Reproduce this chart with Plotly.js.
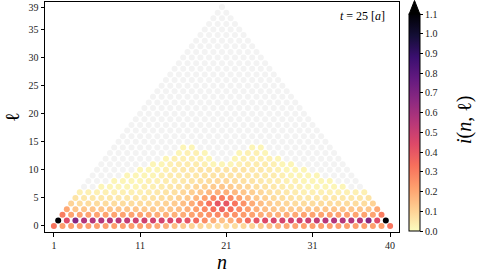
<!DOCTYPE html>
<html><head><meta charset="utf-8">
<script src="https://cdn.plot.ly/plotly-3.0.1.min.js"></script>
<style>html,body{margin:0;padding:0;background:#fff}#plot{width:479px;height:276px}</style>
</head><body><div id="plot"></div>
<script>
// i(n, l) values x100, row l has 40-l sites at n = 1 + l/2 + k
const i_l0  = [32,22,22,22,22,22,22,22,22,22,22,21,20,18,15,12,10,9,8,8, 8,8,9,10,12,15,18,20,21,22,22,22,22,22,22,22,22,22,22,32];
const i_l1  = [110,44,68,56,56,56,56,55,52,49,48,48,47,46,44,41,35,26,18,14, 18,26,35,41,44,46,47,48,48,49,52,55,56,56,56,56,68,44,110];
const i_l2  = [30,21,21,21,21,21,21,21,21,21,20,19,18,18,19,21,23,25,27, 27,25,23,21,19,18,18,19,20,21,21,21,21,21,21,21,21,21,30];
const i_l3  = [20,13,13,13,13,13,13,13,13,12,12,12,13,15,18,22,27,33,37, 33,27,22,18,15,13,12,12,12,13,13,13,13,13,13,13,13,20];
const i_l4  = [10,8,8,8,8,8,8,8,8,8,9,10,12,15,19,25,32,40, 40,32,25,19,15,12,10,9,8,8,8,8,8,8,8,8,8,10];
const i_l5  = [6,5,5,5,5,5,5,5,5,6,7,8,10,12,16,21,27,30, 27,21,16,12,10,8,7,6,5,5,5,5,5,5,5,5,6];
const i_l6  = [3,3,3,3,3,3,3,3,4,5,6,7,9,11,13,16,18, 18,16,13,11,9,7,6,5,4,3,3,3,3,3,3,3,3];
const i_l7  = [0,0,2,2,2,2,2,3,3,4,5,6,7,9,10,12,13, 12,10,9,7,6,5,4,3,3,2,2,2,2,2,0,0];
const i_l8  = [0,0,0,2,2,2,2,3,3,4,4,5,6,7,8,9, 9,8,7,6,5,4,4,3,3,2,2,2,2,0,0,0];
const i_l9  = [0,0,0,0,2,2,2,2,3,4,4,5,5,6,6,6, 6,6,5,5,4,4,3,2,2,2,2,0,0,0,0];
const i_l10 = [0,0,0,0,0,2,2,2,3,4,5,5,6,6,6, 6,6,6,5,5,4,3,2,2,2,0,0,0,0,0];
const i_l11 = [0,0,0,0,0,0,2,2,3,4,4,4,3,2,2, 2,3,4,4,4,3,2,2,0,0,0,0,0,0];
const i_l12 = [0,0,0,0,0,0,0,2,3,3,3,3,2,0, 0,2,3,3,3,3,2,0,0,0,0,0,0,0];
const i_l13 = [0,0,0,0,0,0,0,0,2,3,3,2,0,0, 0,2,3,3,2,0,0,0,0,0,0,0,0];
const i_l14 = [0,0,0,0,0,0,0,0,2,2,0,0,0, 0,0,0,2,2,0,0,0,0,0,0,0,0];
const rowsData = [i_l0,i_l1,i_l2,i_l3,i_l4,i_l5,i_l6,i_l7,i_l8,i_l9,i_l10,i_l11,i_l12,i_l13,i_l14];
const nSites = 40;          // sites in row l = 0
const lMax = 39;            // rows above row 14 hold i = 0
const xTickVals = [1, 11, 21, 31, 40];
const yTickVals = [0, 5, 10, 15, 20, 25, 30, 35, 39];
const cbTickVals = [0.0,0.1,0.2,0.3,0.4,0.5,0.6,0.7,0.8,0.9,1.0,1.1];
const timeLabel = '<i>t</i> = 25 [<i>a</i>]';

const cx=[], cy=[], cv=[], gx=[], gy=[];
for (let l = 0; l <= lMax; l++) {
  const cnt = nSites - l;
  for (let k = 0; k < cnt; k++) {
    const n = 1 + l/2 + k;
    const v = l < rowsData.length ? rowsData[l][k]/100 : 0;
    if (v > 0) { cx.push(n); cy.push(l); cv.push(v); }
    else { gx.push(n); gy.push(l); }
  }
}
const magmaR = [[0,'#fcfdbf'],[0.1,'#fecf92'],[0.2,'#fe9f6d'],[0.3,'#f7705c'],[0.4,'#de4968'],[0.5,'#b73779'],[0.6,'#8c2981'],[0.7,'#641a80'],[0.8,'#3b0f70'],[0.9,'#140e36'],[1,'#000004']];
const W=479,H=276,ml=45,mr=80,mt=2,mb=44;
const pw=W-ml-mr, ph=H-mt-mb;
const px = x => (x-ml)/pw, py = y => 1-(y-mt)/ph;
const serif = 'Liberation Serif, Times New Roman, serif';
const cbX0 = px(409), cbX1 = px(420);
const cbTop = py(14.5);
const traces = [
  {type:'scatter', mode:'markers', x:gx, y:gy, hoverinfo:'skip',
   marker:{size:6, color:'#f3f3f3'}},
  {type:'scatter', mode:'markers', x:cx, y:cy,
   marker:{size:6, color:cv, colorscale:magmaR, cmin:0, cmax:1.1, showscale:true,
     colorbar:{x:cbX0, xanchor:'left', xpad:0, ypad:0, thickness:11, len:py(14.5)-py(231), lenmode:'fraction',
       y:py(231), yanchor:'bottom', outlinewidth:1, outlinecolor:'#000',
       tickvals:cbTickVals, ticktext:cbTickVals.map(v=>v.toFixed(1)), ticks:'outside', ticklen:3, tickcolor:'#000',
       tickfont:{family:serif, size:10, color:'#222'}}}}
];
const layout = {
  width:W, height:H, margin:{l:ml, r:mr, t:mt, b:mb}, showlegend:false,
  paper_bgcolor:'#fff', plot_bgcolor:'#fff',
  xaxis:{range:[-0.03,41.03], tickvals:xTickVals, ticks:'outside', ticklen:3.5, tickcolor:'#000',
    showline:true, mirror:true, linecolor:'#000', linewidth:1, showgrid:false, zeroline:false,
    tickfont:{family:serif, size:10, color:'#222'}},
  yaxis:{range:[-1.07,39.9], tickvals:yTickVals, ticks:'outside', ticklen:3.5, tickcolor:'#000',
    showline:true, mirror:true, linecolor:'#000', linewidth:1, showgrid:false, zeroline:false,
    tickfont:{family:serif, size:10, color:'#222'}},
  shapes:[{type:'path', xref:'paper', yref:'paper',
    path:`M ${cbX0} ${cbTop} L ${cbX1} ${cbTop} L ${(cbX0+cbX1)/2} ${py(0.5)} Z`,
    fillcolor:'#000', line:{color:'#000', width:1}}],
  annotations:[
    {text:timeLabel, xref:'paper', yref:'paper', x:px(387), y:py(16), xanchor:'right', yanchor:'middle', showarrow:false,
     font:{family:serif, size:12, color:'#000'}},
    {text:'<i>n</i>', xref:'paper', yref:'paper', x:px(222), y:py(262), xanchor:'center', yanchor:'middle', showarrow:false,
     font:{family:serif, size:20, color:'#000'}},
    {text:'ℓ', xref:'paper', yref:'paper', x:px(12), y:py(117), xanchor:'center', yanchor:'middle', showarrow:false, textangle:-90,
     font:{family:serif, size:20, color:'#000'}},
    {text:'<i>i</i>(<i>n</i>, ℓ)', xref:'paper', yref:'paper', x:px(464), y:py(120), xanchor:'center', yanchor:'middle', showarrow:false, textangle:-90,
     font:{family:serif, size:20, color:'#000'}}
  ]
};
Plotly.newPlot('plot', traces, layout, {staticPlot:true, displayModeBar:false});
</script></body></html>
